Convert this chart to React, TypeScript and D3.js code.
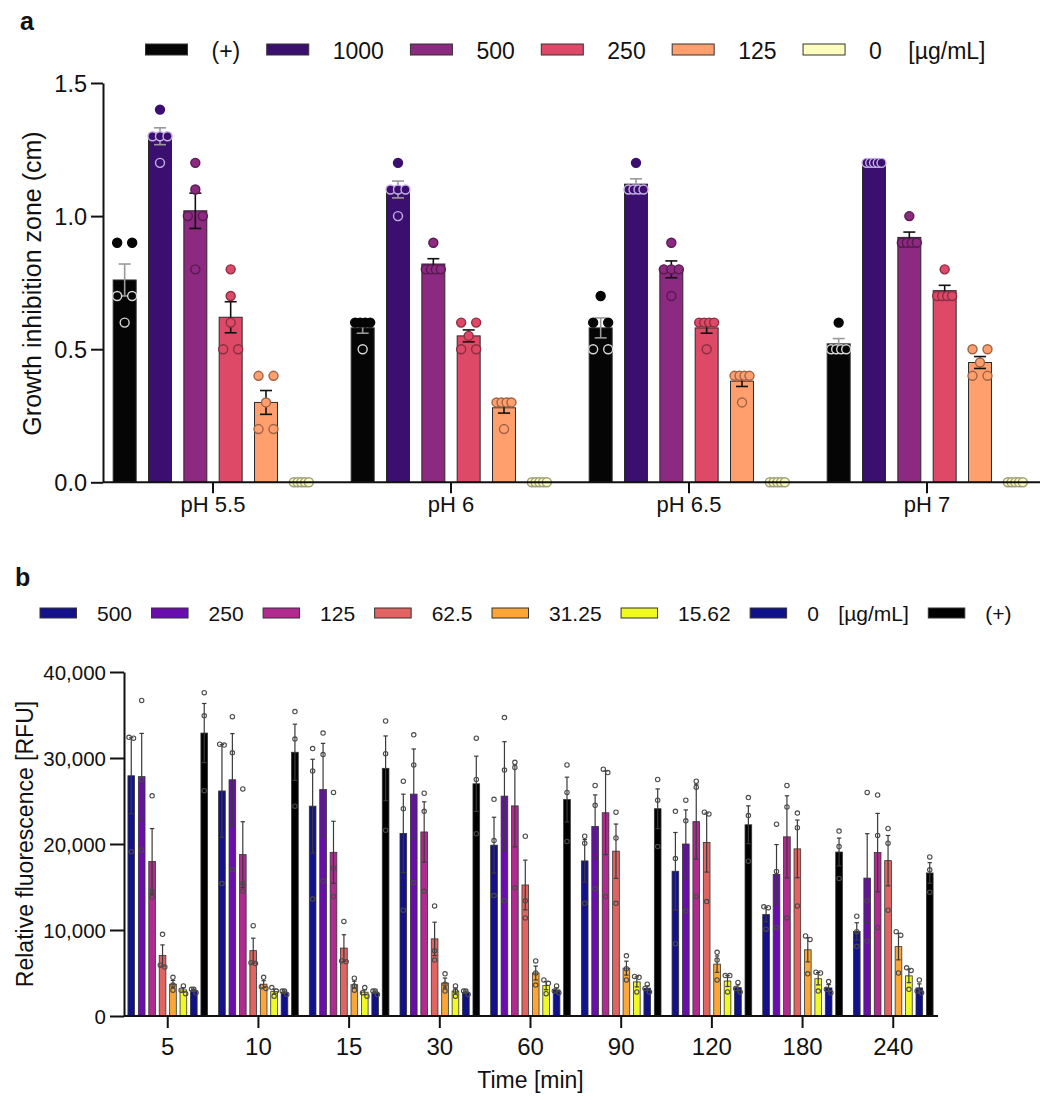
import { useEffect, useRef } from "react";
import * as d3 from "d3";

// ---------- panel a : growth inhibition zone ----------
const phLabels = ["pH 5.5", "pH 6", "pH 6.5", "pH 7"];
const zoneSeries = ["(+)", "1000", "500", "250", "125", "0"];
const unitLabel = "[µg/mL]";

// replicate zones (cm), rows follow zoneSeries
const zonePh55 = [
  [0.9, 0.9, 0.7, 0.7, 0.6],
  [1.4, 1.3, 1.3, 1.3, 1.2],
  [1.2, 1.1, 1.0, 1.0, 0.8],
  [0.8, 0.7, 0.6, 0.5, 0.5],
  [0.4, 0.4, 0.3, 0.2, 0.2],
  [0, 0, 0, 0, 0],
];
const zonePh6 = [
  [0.6, 0.6, 0.6, 0.6, 0.5],
  [1.2, 1.1, 1.1, 1.1, 1.0],
  [0.9, 0.8, 0.8, 0.8, 0.8],
  [0.6, 0.6, 0.55, 0.5, 0.5],
  [0.3, 0.3, 0.3, 0.3, 0.2],
  [0, 0, 0, 0, 0],
];
const zonePh65 = [
  [0.7, 0.6, 0.6, 0.5, 0.5],
  [1.2, 1.1, 1.1, 1.1, 1.1],
  [0.9, 0.8, 0.8, 0.8, 0.7],
  [0.6, 0.6, 0.6, 0.6, 0.5],
  [0.4, 0.4, 0.4, 0.4, 0.3],
  [0, 0, 0, 0, 0],
];
const zonePh7 = [
  [0.6, 0.5, 0.5, 0.5, 0.5],
  [1.2, 1.2, 1.2, 1.2, 1.2],
  [1.0, 0.9, 0.9, 0.9, 0.9],
  [0.8, 0.7, 0.7, 0.7, 0.7],
  [0.5, 0.5, 0.45, 0.4, 0.4],
  [0, 0, 0, 0, 0],
];
const zoneData = [zonePh55, zonePh6, zonePh65, zonePh7];
const zoneTicks = [0, 0.5, 1.0, 1.5];

// ---------- panel b : relative fluorescence ----------
const timeLabels = ["5", "10", "15", "30", "60", "90", "120", "180", "240"];
const rfuSeries = ["500", "250", "125", "62.5", "31.25", "15.62", "0", "(+)"];

// replicate RFU, rows follow rfuSeries
const rfu5 = [
  [32400, 32300, 19100],
  [36700, 27500, 19300],
  [25600, 14500, 13800],
  [9500, 5900, 5700],
  [4500, 3600, 3000],
  [3500, 3000, 2600],
  [3100, 3100, 2700],
  [37600, 34900, 26200],
];
const rfu10 = [
  [31600, 31500, 15400],
  [34800, 30600, 17000],
  [26400, 15400, 14500],
  [10500, 6200, 6100],
  [4500, 3400, 3200],
  [3300, 2900, 2300],
  [2900, 2900, 2500],
  [35400, 32200, 24400],
];
const rfu15 = [
  [31100, 28500, 13600],
  [32900, 30400, 15700],
  [26000, 17200, 13900],
  [11000, 6400, 6300],
  [4400, 3500, 3000],
  [3300, 2700, 2300],
  [2900, 2900, 2500],
  [34300, 30500, 21600],
];
const rfu30 = [
  [27300, 24100, 12300],
  [32700, 29200, 15500],
  [25900, 23800, 14500],
  [12800, 7600, 6500],
  [4900, 3700, 2900],
  [3500, 2900, 2300],
  [2900, 2900, 2500],
  [32300, 27500, 21200],
];
const rfu60 = [
  [25200, 20400, 14000],
  [34700, 28600, 13400],
  [29500, 28900, 14900],
  [20900, 13400, 11400],
  [6400, 5000, 3600],
  [4200, 3800, 2600],
  [3500, 2900, 2700],
  [29200, 26000, 20300],
];
const rfu90 = [
  [20900, 20100, 13100],
  [26800, 24500, 14800],
  [28700, 28300, 13900],
  [23700, 20700, 13100],
  [7000, 5500, 4200],
  [4600, 4500, 2800],
  [3700, 3200, 2800],
  [27500, 25100, 19700],
];
const rfu120 = [
  [23800, 18300, 8400],
  [25100, 22700, 12200],
  [27300, 26600, 13900],
  [23700, 23500, 13300],
  [7400, 6500, 4200],
  [4700, 4700, 2800],
  [3900, 3200, 2800],
  [25400, 23300, 18000],
];
const rfu180 = [
  [12700, 12600, 10100],
  [22300, 16800, 10300],
  [26800, 24300, 11400],
  [23600, 21900, 12800],
  [9300, 8900, 4900],
  [5100, 5000, 2900],
  [4000, 3100, 2700],
  [21500, 19700, 16000],
];
const rfu240 = [
  [11600, 9800, 8100],
  [26000, 13400, 8700],
  [25700, 21000, 10300],
  [21800, 20100, 12300],
  [9800, 9400, 5000],
  [5600, 5300, 3100],
  [4200, 2900, 2700],
  [18500, 17000, 14400],
];
const rfuData = [rfu5, rfu10, rfu15, rfu30, rfu60, rfu90, rfu120, rfu180, rfu240];
const rfuTicks = [0, 10000, 20000, 30000, 40000];

const zoneColors = ["#050505", "#3b0f70", "#8c2981", "#de4968", "#fe9f6d", "#fcfdbf"];
const rfuColors = ["#13128a", "#6a0dad", "#b12a90", "#e16462", "#fca636", "#f0f921", "#10108a", "#000000"];

const FONT = "Arial, 'Liberation Sans', Helvetica, sans-serif";

const sem = (v: number[]) => (d3.deviation(v) ?? 0) / Math.sqrt(v.length);

// spread points that sit on the same height side by side
function spreadOffsets(ys: number[], minGap: number, span: number) {
  const order = ys.map((_, i) => i).sort((a, b) => ys[a] - ys[b]);
  const offsets = ys.map(() => 0);
  let cluster: number[] = [];
  const flush = () => {
    const k = cluster.length;
    cluster.forEach((j, n) => (offsets[j] = k === 1 ? 0 : -span / 2 + (span * n) / (k - 1)));
    cluster = [];
  };
  order.forEach((i) => {
    if (cluster.length && Math.abs(ys[i] - ys[cluster[cluster.length - 1]]) >= minGap) flush();
    cluster.push(i);
  });
  flush();
  return offsets;
}

type G = d3.Selection<SVGGElement, unknown, null, undefined>;

function drawLegend(
  g: G,
  labels: string[],
  colors: string[],
  o: { x: number; y: number; sw: number; sh: number; gap: number; itemGap: number; fs: number; base: number },
) {
  let cx = o.x;
  labels.forEach((lab, i) => {
    g.append("rect")
      .attr("x", cx)
      .attr("y", o.y)
      .attr("width", o.sw)
      .attr("height", o.sh)
      .attr("fill", colors[i])
      .attr("stroke", "#333")
      .attr("stroke-width", 1);
    cx += o.sw + o.gap;
    const t = g.append("text").attr("x", cx).attr("y", o.base).attr("font-size", o.fs).text(lab);
    cx += (t.node() as SVGTextElement).getComputedTextLength() + o.itemGap;
    if (lab === "0") {
      const u = g.append("text").attr("x", cx).attr("y", o.base).attr("font-size", o.fs).text(unitLabel);
      cx += (u.node() as SVGTextElement).getComputedTextLength() + o.itemGap;
    }
  });
}

function drawZone(g: G) {
  const y = d3.scaleLinear().domain([0, 1.5]).range([482.3, 83]);
  const x = d3.scaleBand().domain(phLabels).range([94, 1046]);
  const xi = d3.scaleBand().domain(zoneSeries).range([13, 225]).paddingInner(0.35).paddingOuter(0.175);
  const bw = xi.bandwidth();

  g.append("text").attr("x", 20).attr("y", 30).attr("font-size", 25).attr("font-weight", "bold").text("a");

  drawLegend(g.append("g"), zoneSeries, zoneColors, {
    x: 145.5, y: 44, sw: 42, sh: 11, gap: 24, itemGap: 26.5, fs: 23, base: 59,
  });

  zoneData.forEach((rows, pi) => {
    rows.forEach((vals, si) => {
      const color = zoneColors[si];
      const dark = si < 2;
      const m = d3.mean(vals) ?? 0;
      const e = sem(vals);
      const x0 = (x(phLabels[pi]) ?? 0) + (xi(zoneSeries[si]) ?? 0);
      const cx = x0 + bw / 2;
      g.append("rect")
        .attr("x", x0)
        .attr("y", y(m))
        .attr("width", bw)
        .attr("height", y(0) - y(m))
        .attr("fill", color)
        .attr("stroke", "#2a2a2a")
        .attr("stroke-width", 1);

      const errColor = dark ? "#9a9a9a" : "#111";
      if (e > 0) {
        const eg = g.append("g").attr("stroke", errColor).attr("stroke-width", 1.6);
        eg.append("line").attr("x1", cx).attr("x2", cx).attr("y1", y(m - e)).attr("y2", y(m + e));
        [m - e, m + e].forEach((v) =>
          eg.append("line").attr("x1", cx - 6).attr("x2", cx + 6).attr("y1", y(v)).attr("y2", y(v)),
        );
      }

      const ys = vals.map((v) => y(v));
      const off = spreadOffsets(ys, 1, 15);
      vals.forEach((v, k) => {
        const inside = v <= m + 1e-9;
        let stroke: string;
        if (dark) stroke = inside ? (si === 0 ? "#d6d6d6" : "#c4b2e4") : color;
        else stroke = d3.color(color)!.darker(1.3).formatHex();
        g.append("circle")
          .attr("cx", cx + off[k])
          .attr("cy", ys[k])
          .attr("r", 4.5)
          .attr("fill", color)
          .attr("stroke", stroke)
          .attr("stroke-width", 1.4);
      });
    });
  });

  // y axis
  const ya = g
    .append("g")
    .attr("transform", "translate(103,0)")
    .call(d3.axisLeft(y).tickValues(zoneTicks).tickFormat(d3.format(".1f")).tickSize(12).tickSizeOuter(0).tickPadding(4));
  ya.select(".domain").attr("stroke-width", 2).attr("stroke", "#111");
  ya.selectAll(".tick line").attr("stroke-width", 2).attr("stroke", "#111");
  ya.selectAll("text").attr("font-size", 23.5).attr("font-family", FONT).attr("fill", "#111").attr("dy", "0.36em");

  // x axis
  g.append("line").attr("x1", 103).attr("x2", 1040).attr("y1", y(0)).attr("y2", y(0)).attr("stroke", "#111").attr("stroke-width", 2);
  phLabels.forEach((p) => {
    const cx = (x(p) ?? 0) + x.bandwidth() / 2;
    g.append("line").attr("x1", cx).attr("x2", cx).attr("y1", y(0)).attr("y2", y(0) + 11).attr("stroke", "#111").attr("stroke-width", 2);
    g.append("text").attr("x", cx).attr("y", 512).attr("text-anchor", "middle").attr("font-size", 22).text(p);
  });

  g.append("text")
    .attr("transform", "translate(41,283.5) rotate(-90)")
    .attr("text-anchor", "middle")
    .attr("font-size", 25)
    .text("Growth inhibition zone (cm)");
}

function drawRfu(g: G) {
  const y = d3.scaleLinear().domain([0, 40000]).range([1016, 672]);
  const x = d3.scaleBand().domain(timeLabels).range([122.4, 938.6]);
  const xi = d3.scaleBand().domain(rfuSeries).range([3.65, 87.05]).paddingInner(0.36).paddingOuter(0.18);
  const bw = xi.bandwidth();

  g.append("text").attr("x", 15).attr("y", 586).attr("font-size", 25).attr("font-weight", "bold").text("b");

  drawLegend(g.append("g"), rfuSeries, rfuColors, {
    x: 40, y: 608, sw: 36.5, sh: 10, gap: 20.5, itemGap: 19.5, fs: 21, base: 621,
  });

  rfuData.forEach((rows, ti) => {
    rows.forEach((vals, si) => {
      const m = d3.mean(vals) ?? 0;
      const e = sem(vals);
      const x0 = (x(timeLabels[ti]) ?? 0) + (xi(rfuSeries[si]) ?? 0);
      const cx = x0 + bw / 2;
      g.append("rect")
        .attr("x", x0)
        .attr("y", y(m))
        .attr("width", bw)
        .attr("height", y(0) - y(m))
        .attr("fill", rfuColors[si])
        .attr("stroke", "#333")
        .attr("stroke-width", 0.8);

      const eg = g.append("g").attr("stroke", "#3a3a3a").attr("stroke-width", 1.2);
      eg.append("line").attr("x1", cx).attr("x2", cx).attr("y1", y(Math.max(0, m - e))).attr("y2", y(m + e));
      [m - e, m + e].forEach((v) =>
        eg.append("line").attr("x1", cx - 2.2).attr("x2", cx + 2.2).attr("y1", y(Math.max(0, v))).attr("y2", y(Math.max(0, v))),
      );

      const ys = vals.map((v) => y(v));
      const off = spreadOffsets(ys, 4, 4.5);
      vals.forEach((_, k) =>
        g.append("circle")
          .attr("cx", cx + off[k])
          .attr("cy", ys[k])
          .attr("r", 2.2)
          .attr("fill", "none")
          .attr("stroke", "#4a4a4a")
          .attr("stroke-width", 1.1),
      );
    });
  });

  const ya = g
    .append("g")
    .attr("transform", "translate(124,0)")
    .call(d3.axisLeft(y).tickValues(rfuTicks).tickFormat(d3.format(",")).tickSize(14).tickSizeOuter(0).tickPadding(4));
  ya.select(".domain").attr("stroke-width", 2).attr("stroke", "#111");
  ya.selectAll(".tick line").attr("stroke-width", 2).attr("stroke", "#111");
  ya.selectAll("text").attr("font-size", 20.5).attr("font-family", FONT).attr("fill", "#111").attr("dy", "0.36em");

  g.append("line").attr("x1", 124).attr("x2", 938).attr("y1", y(0)).attr("y2", y(0)).attr("stroke", "#111").attr("stroke-width", 2);
  timeLabels.forEach((t) => {
    const cx = (x(t) ?? 0) + x.bandwidth() / 2;
    g.append("line").attr("x1", cx).attr("x2", cx).attr("y1", y(0)).attr("y2", y(0) + 12).attr("stroke", "#111").attr("stroke-width", 2);
    g.append("text").attr("x", cx).attr("y", 1055).attr("text-anchor", "middle").attr("font-size", 24).text(t);
  });

  g.append("text")
    .attr("transform", "translate(32.5,844) rotate(-90)")
    .attr("text-anchor", "middle")
    .attr("font-size", 23)
    .text("Relative fluorescence [RFU]");
  g.append("text").attr("x", 530.5).attr("y", 1088).attr("text-anchor", "middle").attr("font-size", 23).text("Time [min]");
}

export default function App() {
  const svgRef = useRef<SVGSVGElement>(null);

  useEffect(() => {
    if (!svgRef.current) return;
    const svg = d3.select(svgRef.current);
    svg.selectAll("*").remove();
    drawZone(svg.append("g"));
    drawRfu(svg.append("g"));
  }, []);

  return (
    <svg
      ref={svgRef}
      width={1061}
      height={1109}
      fontFamily={FONT}
      fill="#111"
      style={{ position: "absolute", left: 0, top: 0, background: "#fff" }}
    />
  );
}
